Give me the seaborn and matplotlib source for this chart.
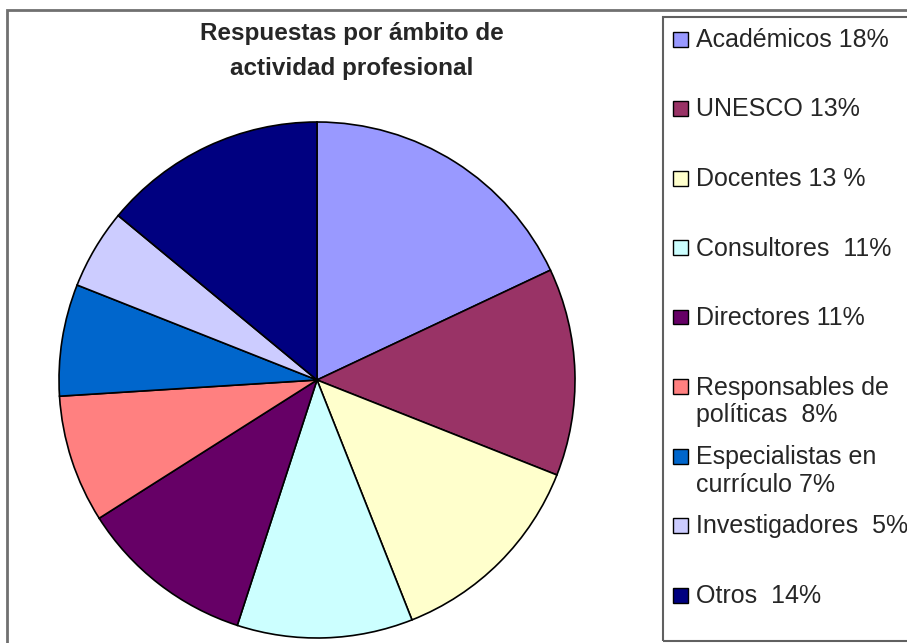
import matplotlib
matplotlib.use("Agg")
import matplotlib.pyplot as plt
import matplotlib.patches as mpatches
import numpy as np
import seaborn as sns

labels = ["Académicos 18%", "UNESCO 13%", "Docentes 13 %", "Consultores  11%",
          "Directores 11%", "Responsables de\npolíticas  8%",
          "Especialistas en\ncurrículo 7%", "Investigadores  5%", "Otros  14%"]
values = [18, 13, 13, 11, 11, 8, 7, 5, 14]
colors = ["#9999FF", "#993366", "#FFFFCC", "#CCFFFF", "#660066",
          "#FF8080", "#0066CC", "#CCCCFF", "#000080"]

sns.set_style("white")
plt.rcParams['font.family'] = ['Liberation Sans', 'DejaVu Sans']

fig = plt.figure(figsize=(9.07, 6.43), dpi=100)
W, H = 907, 643

def fx(px):
    return px / W

def fy(py):
    # pixel row from top -> figure fraction
    return 1 - py / H

# pie area: center (317,380), radius 258 px
cx, cy, r = 317, 380, 258
ax = fig.add_axes([fx(cx - r), fy(cy + r), 2 * r / W, 2 * r / H])
pal = sns.color_palette(colors)
wedges, _ = ax.pie(values, colors=pal, startangle=90, counterclock=False,
                   wedgeprops=dict(edgecolor="black", linewidth=1.2))
for w in wedges:
    w.set_clip_on(False)
ax.set_xlim(-1, 1)
ax.set_ylim(-1, 1)
ax.set_aspect("equal")
ax.axis("off")

fig.text(fx(352), fy(51), "Respuestas por ámbito de\nactividad profesional",
         ha="center", va="center", fontsize=17.5, fontweight="bold",
         linespacing=1.65)

# outer chart border
fig.add_artist(mpatches.Rectangle((fx(7), -0.05), 1.2, fy(10) + 0.05,
                                  transform=fig.transFigure, fill=False,
                                  edgecolor="#707070", linewidth=2))

# legend box, entries evenly spaced, multi-line labels hang below the marker
fig.add_artist(mpatches.Rectangle((fx(663), fy(641)), 1.0, (641 - 17) / H,
                                  transform=fig.transFigure, fill=False,
                                  edgecolor="#606060", linewidth=1.5))
rows = np.linspace(39, 595, len(labels))
for lab, c, ry in zip(labels, pal, rows):
    fig.add_artist(mpatches.Rectangle((fx(673), fy(ry + 7.5)), 15 / W, 15 / H,
                                      transform=fig.transFigure, facecolor=c,
                                      edgecolor="black", linewidth=1))
    fig.text(fx(696), fy(ry - 11), lab, ha="left", va="top", fontsize=18)

fig.savefig("out.png", dpi=100)
